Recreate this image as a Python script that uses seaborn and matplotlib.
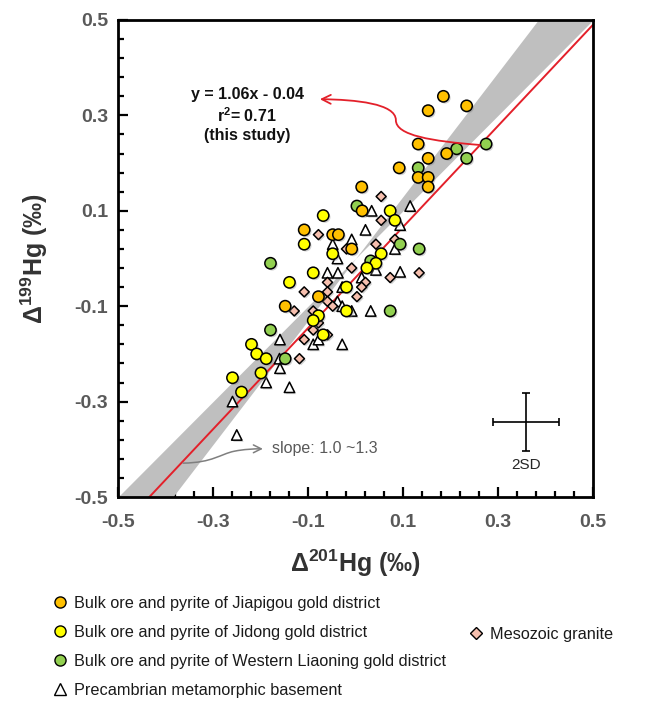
import numpy as np
import pandas as pd
import matplotlib
matplotlib.use("Agg")
import matplotlib.pyplot as plt
import seaborn as sns
from matplotlib.lines import Line2D
from matplotlib.path import Path
from matplotlib.patches import FancyArrowPatch
from matplotlib import patheffects as pe
from matplotlib.ticker import FixedLocator

# ---- Δ201Hg / Δ199Hg (‰) by sample group ----
jiapigou_d201 = [0.185, 0.153, 0.234, 0.132, 0.153, 0.192, 0.092, 0.132, 0.153, 0.153,
                 0.013, 0.014, -0.108, -0.048, -0.036, -0.008, -0.078, -0.148]
jiapigou_d199 = [0.34, 0.31, 0.32, 0.24, 0.21, 0.22, 0.19, 0.17, 0.17, 0.15,
                 0.15, 0.10, 0.06, 0.05, 0.05, 0.02, -0.08, -0.10]

jidong_d201 = [0.073, 0.083, 0.054, 0.043, 0.024, -0.068, -0.108, -0.048, -0.089, -0.139,
               -0.019, -0.019, -0.078, -0.089, -0.068, -0.219, -0.208, -0.188, -0.199,
               -0.259, -0.240]
jidong_d199 = [0.10, 0.08, 0.01, -0.01, -0.02, 0.09, 0.03, 0.01, -0.03, -0.05,
               -0.06, -0.11, -0.12, -0.13, -0.16, -0.18, -0.20, -0.21, -0.24,
               -0.25, -0.28]

liaoning_d201 = [0.213, 0.234, 0.275, 0.132, 0.003, 0.094, 0.134, 0.032, -0.179, 0.073,
                 -0.179, -0.148]
liaoning_d199 = [0.23, 0.21, 0.24, 0.19, 0.11, 0.03, 0.02, -0.005, -0.01, -0.11,
                 -0.15, -0.21]

granite_d201 = [0.054, 0.054, 0.083, 0.043, -0.019, -0.078, -0.008, 0.134, 0.073, 0.021,
                0.013, 0.003, -0.108, -0.059, -0.059, -0.059, -0.048, -0.129, -0.089,
                -0.078, -0.089, -0.059, -0.108, -0.118]
granite_d199 = [0.13, 0.08, 0.04, 0.03, 0.02, 0.05, -0.02, -0.03, -0.04, -0.05,
                -0.06, -0.08, -0.07, -0.05, -0.07, -0.09, -0.10, -0.11, -0.11,
                -0.135, -0.15, -0.16, -0.17, -0.21]

basement_d201 = [0.115, 0.034, 0.094, 0.021, -0.008, -0.048, 0.083, -0.038, 0.043, 0.094,
                 -0.037, -0.059, 0.013, -0.028, -0.038, -0.028, -0.008, 0.032, -0.159,
                 -0.089, -0.078, -0.028, -0.160, -0.159, -0.188, -0.139, -0.259, -0.250]
basement_d199 = [0.11, 0.10, 0.07, 0.06, 0.04, 0.03, 0.02, 0.00, -0.024, -0.028,
                 -0.03, -0.03, -0.04, -0.06, -0.09, -0.10, -0.11, -0.11, -0.17,
                 -0.18, -0.17, -0.18, -0.21, -0.23, -0.26, -0.27, -0.30, -0.37]

group_names = ["Bulk ore and pyrite of Jiapigou gold district",
               "Bulk ore and pyrite of Jidong gold district",
               "Bulk ore and pyrite of Western Liaoning gold district",
               "Mesozoic granite",
               "Precambrian metamorphic basement"]

# regression (this study) and reference slope range
fit_slope, fit_intercept, fit_r2 = 1.06, -0.04, 0.71
slope_low, slope_high = 1.0, 1.3

# analytical uncertainty (2SD)
sd2_x, sd2_y = 0.07, 0.06

x_ticks = [-0.5, -0.3, -0.1, 0.1, 0.3, 0.5]
y_ticks = [-0.5, -0.3, -0.1, 0.1, 0.3, 0.5]

# ---- styling ----
sns.set_style("ticks")
plt.rcParams["font.family"] = ["Liberation Sans", "DejaVu Sans"]
plt.rcParams["mathtext.fontset"] = "custom"
plt.rcParams["mathtext.rm"] = "Liberation Sans"
plt.rcParams["mathtext.bf"] = "Liberation Sans:bold"
plt.rcParams["axes.unicode_minus"] = False

colors = {
    group_names[0]: "#FFC000",
    group_names[1]: "#FFFF00",
    group_names[2]: "#92D050",
    group_names[3]: "#F6BFAE",
    group_names[4]: "#FFFFFF",
}
markers = {group_names[0]: "o", group_names[1]: "o", group_names[2]: "o",
           group_names[3]: "D", group_names[4]: "^"}
msizes = {group_names[0]: 66, group_names[1]: 66, group_names[2]: 66,
          group_names[3]: 26, group_names[4]: 56}

frames = []
for name, xs, ys in [(group_names[4], basement_d201, basement_d199),
                     (group_names[3], granite_d201, granite_d199),
                     (group_names[2], liaoning_d201, liaoning_d199),
                     (group_names[1], jidong_d201, jidong_d199),
                     (group_names[0], jiapigou_d201, jiapigou_d199)]:
    frames.append(pd.DataFrame({"d201": xs, "d199": ys, "group": name}))
df = pd.concat(frames, ignore_index=True)

W, H = 649, 702
fig = plt.figure(figsize=(W / 100, H / 100), dpi=100)
ax = fig.add_axes([118 / W, 1 - 497 / H, (593 - 118) / W, (497 - 20) / H])

# slope 1.0 – 1.3 envelope through the origin
xs_band = np.linspace(-0.5, 0.5, 201)
ax.fill_between(xs_band, slope_low * xs_band, slope_high * xs_band,
                color="#BFBFBF", linewidth=0, zorder=1)

# regression line
ax.plot(xs_band, fit_slope * xs_band + fit_intercept, color="#E3202A", lw=1.4, zorder=2)

shadow = [pe.SimplePatchShadow(offset=(1.2, -1.2), shadow_rgbFace="#808080", alpha=0.35),
          pe.Normal()]
for i, name in enumerate([group_names[4], group_names[3], group_names[2],
                          group_names[1], group_names[0]]):
    sub = df[df["group"] == name]
    sns.scatterplot(data=sub, x="d201", y="d199", ax=ax, color=colors[name],
                    marker=markers[name], s=msizes[name], edgecolor="black",
                    linewidth=1.1, legend=False, zorder=3 + i)
    ax.collections[-1].set_path_effects(shadow)

ax.set_xlim(-0.5, 0.5)
ax.set_ylim(-0.5, 0.5)

minor = np.round(np.arange(-0.5, 0.5001, 0.04), 2)
for axis, ticks in ((ax.xaxis, x_ticks), (ax.yaxis, y_ticks)):
    axis.set_major_locator(FixedLocator(ticks))
    axis.set_minor_locator(FixedLocator(minor))
ax.set_xticklabels([f"{t:.1f}" for t in x_ticks])
ax.set_yticklabels([f"{t:.1f}" for t in y_ticks])
ax.tick_params(which="both", direction="in", top=False, right=False,
               width=1.6, color="black")
ax.tick_params(which="major", length=7)
ax.tick_params(which="minor", length=4)
ax.tick_params(axis="x", which="major", pad=12)
ax.tick_params(axis="y", which="major", pad=7)
for lab in ax.get_xticklabels() + ax.get_yticklabels():
    lab.set_fontsize(14)
    lab.set_fontweight("bold")
    lab.set_color("#595959")
for sp in ax.spines.values():
    sp.set_linewidth(2.0)
    sp.set_color("black")

ax.set_xlabel(r"Δ$^{\mathbf{201}}$Hg (‰)", fontsize=18, fontweight="bold",
              color="#333333", labelpad=12)
ax.set_ylabel(r"Δ$^{\mathbf{199}}$Hg (‰)", fontsize=18, fontweight="bold",
              color="#333333", labelpad=18)

# regression annotation
ax.text(-0.228, 0.301,
        f"y = {fit_slope:.2f}x - {abs(fit_intercept):.2f}\n"
        f"r$^{{\\mathbf{{2}}}}$= {fit_r2:.2f}\n(this study)",
        ha="center", va="center", fontsize=11.5, fontweight="bold",
        linespacing=1.25, color="#111111", zorder=10)
red_path = Path([(0.262, 0.238), (0.16, 0.246), (0.085, 0.258), (0.085, 0.29),
                 (0.085, 0.325), (0.0, 0.333), (-0.075, 0.334)],
                [Path.MOVETO] + [Path.CURVE4] * 6)
ax.add_patch(FancyArrowPatch(path=red_path, arrowstyle="->", mutation_scale=16,
                             color="#E3202A", lw=1.3, zorder=10))

# slope envelope annotation
gray_path = Path([(-0.363, -0.429), (-0.30, -0.428), (-0.285, -0.410), (-0.255, -0.404),
                  (-0.235, -0.400), (-0.215, -0.399), (-0.195, -0.399)],
                 [Path.MOVETO] + [Path.CURVE4] * 6)
ax.add_patch(FancyArrowPatch(path=gray_path, arrowstyle="->", mutation_scale=14,
                             color="#7F7F7F", lw=1.1, zorder=10))
ax.text(-0.176, -0.399, f"slope: {slope_low:.1f} ~{slope_high:.1f}", ha="left",
        va="center", fontsize=11.5, color="#595959", zorder=10)

# 2SD error cross
ax.errorbar([0.359], [-0.343], xerr=[sd2_x], yerr=[sd2_y], fmt="none",
            ecolor="black", elinewidth=1.2, capsize=3, capthick=1.2, zorder=10)
ax.text(0.359, -0.433, "2SD", ha="center", va="center", fontsize=11, color="#262626")

# legends below the axes
def handle(name, ms):
    return Line2D([], [], linestyle="none", marker=markers[name], markersize=ms,
                  markerfacecolor=colors[name], markeredgecolor="black",
                  markeredgewidth=1.0)

leg_kw = dict(frameon=False, fontsize=11.7, handlelength=0.8, handletextpad=0.45,
              borderpad=0, borderaxespad=0, labelcolor="#1a1a1a")
leg1 = fig.legend([handle(group_names[0], 8), handle(group_names[1], 8),
                   handle(group_names[2], 8), handle(group_names[4], 8)],
                  [group_names[0], group_names[1], group_names[2], group_names[4]],
                  loc="upper left", bbox_to_anchor=(53.5 / W, 1 - 596 / H),
                  labelspacing=0.86, **leg_kw)
leg2 = fig.legend([handle(group_names[3], 6.5)], [group_names[3]],
                  loc="upper left", bbox_to_anchor=(469.5 / W, 1 - 627 / H), **leg_kw)

fig.savefig("out.png", dpi=100)
